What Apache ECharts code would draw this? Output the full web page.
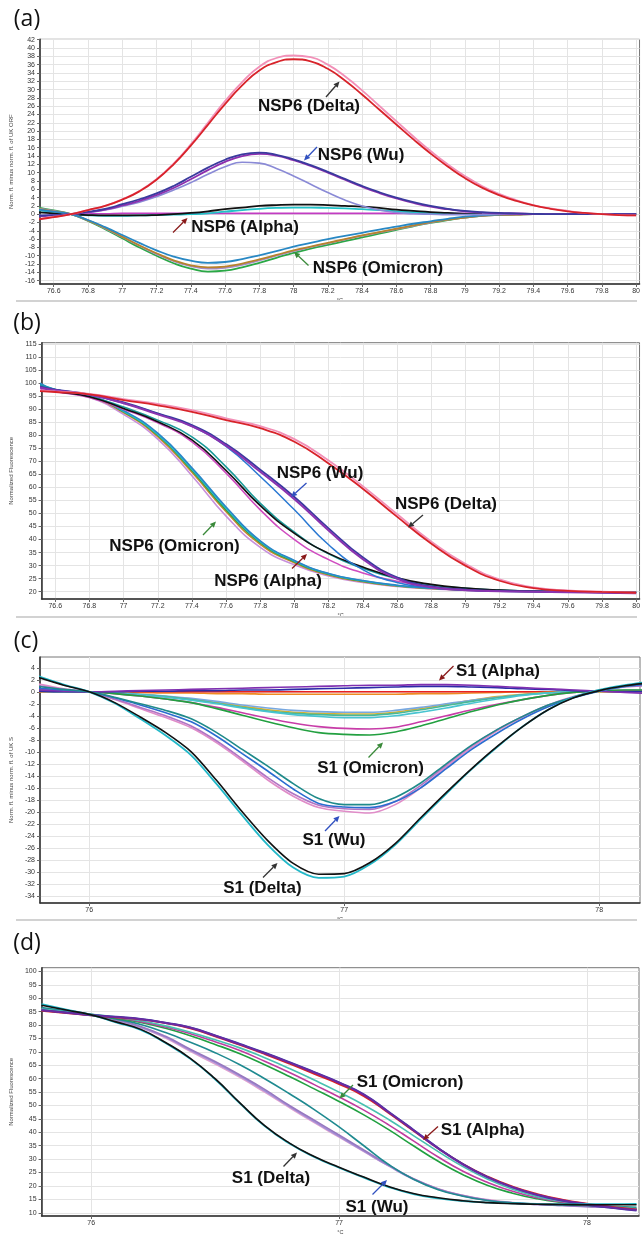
<!DOCTYPE html>
<html><head><meta charset="utf-8">
<script src="https://cdn.jsdelivr.net/npm/echarts@6/dist/echarts.min.js"></script>
<style>html,body{margin:0;padding:0;background:#fff}#c{width:643px;height:1236px}</style>
</head><body><div id="c"></div>
<script>
// ================= DATA =================
// ---- panel (a): difference melt curves, NSP6 ----
const A_X = [76.5,76.6,76.7,76.8,76.9,77.0,77.1,77.2,77.3,77.4,77.5,77.6,77.7,77.8,77.9,78.0,78.1,78.2,78.3,78.4,78.5,78.6,78.7,78.8,78.9,79.0,79.1,79.2,79.3,79.4,79.5,79.6,79.7,79.8,79.9,80.0];
const A_XTICKS = [76.6,76.8,77,77.2,77.4,77.6,77.8,78,78.2,78.4,78.6,78.8,79,79.2,79.4,79.6,79.8,80];
const A_YTICKS = [-16,-14,-12,-10,-8,-6,-4,-2,0,2,4,6,8,10,12,14,16,18,20,22,24,26,28,30,32,34,36,38,40,42];
const A_DELTA_RED  = [-1.3,-0.7,0,1.0,2.0,3.5,5.5,8.3,12.0,16.5,21.5,26.5,31.0,34.6,36.6,37.3,36.8,35.0,32.2,28.8,25.2,21.6,18.0,14.6,11.5,8.7,6.4,4.6,3.2,2.1,1.3,0.7,0.3,0,-0.2,-0.3];
const A_DELTA_PINK = [-1.2,-0.6,0,1.0,2.0,3.6,5.6,8.4,12.2,16.8,22.0,27.2,31.8,35.5,37.6,38.2,37.8,36.0,33.2,29.8,26.1,22.4,18.7,15.2,12.0,9.2,6.8,4.9,3.4,2.2,1.4,0.8,0.3,0,-0.2,-0.3];
const A_WU_DBLUE  = [-0.4,-0.2,0,0.6,1.3,2.4,3.6,5.0,6.8,9.0,11.2,13.1,14.4,14.8,14.3,13.2,11.8,10.2,8.5,6.8,5.3,4.0,2.9,2.0,1.3,0.8,0.5,0.3,0.2,0.1,0,0,0,0,0,0];
const A_WU_PURPLE = [-0.5,-0.3,0,0.5,1.1,2.1,3.2,4.6,6.3,8.4,10.6,12.6,14.0,14.5,14.1,13.0,11.6,10.0,8.3,6.6,5.1,3.8,2.7,1.8,1.2,0.7,0.4,0.2,0.1,0,0,0,0,0,0,0];
const A_WU_LILAC  = [-0.3,-0.2,0,0.4,1.0,1.9,2.9,4.2,5.8,7.6,9.6,11.4,12.5,12.3,11.0,9.2,7.2,5.2,3.4,2.0,1.0,0.4,0.1,0,-0.1,-0.1,-0.1,0,0,0,0,0,0,0,0,0];
const A_AL_BLACK  = [0.5,0.2,0,-0.2,-0.3,-0.3,-0.3,-0.2,0,0.3,0.7,1.2,1.6,2.0,2.2,2.3,2.3,2.2,2.0,1.8,1.5,1.1,0.8,0.5,0.3,0.1,0,null,null,null,null,null,null,null,null,null];
const A_AL_CYAN   = [1.0,0.5,0,-0.3,-0.4,-0.4,-0.3,-0.2,-0.1,0,0.2,0.6,1.0,1.3,1.5,1.6,1.6,1.5,1.4,1.2,1.0,0.7,0.5,0.3,0.2,0.1,0,0,0,0,0,0,0,0,0,0];
const A_AL_MAGENTA= [-0.5,-0.2,0,0.1,0.1,0.2,0.2,0.2,0.2,0.2,0.2,0.2,0.2,0.2,0.2,0.2,0.2,0.2,0.2,0.2,0.2,0.2,0.2,0.2,0.2,0.2,0.2,0.2,0.2,0.1,0.1,0.1,0.1,0.1,0.1,0.1];
const A_OM_BLUE   = [1.2,0.6,0,-1.4,-3.1,-5.0,-6.9,-8.7,-10.2,-11.2,-11.7,-11.5,-10.8,-9.9,-8.9,-7.8,-6.9,-6.0,-5.2,-4.5,-3.7,-3.0,-2.3,-1.7,-1.1,-0.6,-0.3,-0.1,0,0,0,0,0,0,0,0];
const A_OM_BROWN  = [1.3,0.7,0,-1.5,-3.3,-5.4,-7.5,-9.4,-11.1,-12.3,-12.8,-12.6,-11.9,-10.9,-9.8,-8.7,-7.8,-6.9,-6.0,-5.1,-4.3,-3.5,-2.7,-1.9,-1.3,-0.8,-0.4,-0.2,-0.1,0,0,0,0,0,0,0];
const A_OM_MAUVE  = [1.4,0.8,0,-1.5,-3.4,-5.5,-7.6,-9.6,-11.3,-12.5,-13.1,-12.9,-12.2,-11.1,-10.0,-8.9,-7.9,-7.0,-6.1,-5.2,-4.4,-3.6,-2.8,-2.0,-1.3,-0.8,-0.4,-0.2,-0.1,0,0,0,0,0,0,0];
const A_OM_GREEN  = [1.7,0.9,0,-1.6,-3.6,-5.8,-8.0,-10.0,-11.8,-13.1,-13.8,-13.6,-12.8,-11.7,-10.5,-9.3,-8.3,-7.4,-6.5,-5.6,-4.7,-3.8,-2.9,-2.1,-1.4,-0.8,-0.4,-0.2,-0.1,0,0,0,0,0,0,0];

// ---- panel (b): normalized melt curves, NSP6 ----
const B_X = [76.5,76.6,76.8,77.0,77.2,77.4,77.6,77.8,78.0,78.2,78.4,78.6,78.8,79.0,79.2,79.4,79.6,79.8,80.0];
const B_XTICKS = A_XTICKS;
const B_YTICKS = [20,25,30,35,40,45,50,55,60,65,70,75,80,85,90,95,100,105,110,115];
const B_DELTA_RED  = [97.0,96.6,95.7,93.5,91.5,89.0,85.8,82.7,77.5,69.2,59.5,48.8,38.5,30.0,24.2,21.4,20.3,19.9,19.6];
const B_DELTA_PINK = [97.3,96.8,95.9,93.9,92.0,89.6,86.5,83.5,78.5,70.3,60.5,49.8,39.3,30.7,24.7,21.7,20.5,20.0,19.7];
const B_WU_PURPLE  = [98.5,97.3,95.5,92.3,88.0,83.4,76.0,66.0,55.5,43.5,32.5,25.0,21.7,20.6,20.2,20.0,19.8,19.6,19.4];
const B_WU_DBLUE   = [98.8,97.5,95.7,92.6,88.4,83.9,76.6,66.8,56.3,44.3,33.2,25.5,22.0,20.8,20.3,20.1,19.9,19.7,19.5];
const B_WU_BLUE    = [99.0,97.5,95.5,92.3,88.3,83.4,75.7,64.2,51.4,38.0,28.5,23.5,21.5,20.6,20.2,20.0,19.9,19.8,19.7];
const B_AL_BLACK   = [98.8,97.0,94.8,90.3,85.2,78.2,66.5,53.0,42.4,34.7,29.5,25.3,22.8,21.4,20.6,20.2,20.0,19.9,19.8];
const B_AL_MAGENTA = [98.0,96.8,94.5,90.0,84.8,77.5,65.5,51.4,40.0,32.3,27.2,24.0,22.0,21.0,20.4,20.1,20.0,19.9,19.8];
const B_AL_TEAL    = [99.5,97.5,95.0,90.8,85.8,79.4,67.9,53.9,42.8,34.5,29.0,25.0,22.6,21.3,20.6,20.2,20.0,19.9,19.8];
const B_OM_BLUE    = [100.3,97.5,95.2,89.5,80.8,67.5,52.5,39.5,32.0,27.0,24.3,22.5,21.4,20.8,20.4,20.2,20.0,19.9,19.8];
const B_OM_CYAN    = [100.2,97.4,95.1,89.2,80.3,67.0,52.0,39.2,31.8,26.9,24.2,22.4,21.4,20.8,20.4,20.2,20.0,19.9,19.8];
const B_OM_GREEN   = [100.0,97.3,95.0,89.0,80.0,66.5,51.4,38.8,31.5,26.7,24.0,22.3,21.3,20.7,20.3,20.1,20.0,19.9,19.8];
const B_OM_ORANGE  = [99.8,97.2,94.8,88.7,79.5,65.8,50.7,38.2,31.1,26.4,23.8,22.2,21.2,20.6,20.3,20.1,20.0,19.9,19.8];
const B_OM_MAUVE   = [99.5,97.0,94.5,88.0,78.5,64.5,49.0,37.0,30.3,26.0,23.5,22.0,21.1,20.6,20.3,20.1,20.0,19.9,19.8];

// ---- panel (c): difference melt curves, S1 ----
const C_X = [75.8,75.9,76.0,76.1,76.2,76.3,76.4,76.5,76.6,76.7,76.8,76.9,77.0,77.1,77.2,77.3,77.4,77.5,77.6,77.7,77.8,77.9,78.0,78.1,78.2];
const C_XTICKS = [76,77,78];
const C_YTICKS = [-34,-32,-30,-28,-26,-24,-22,-20,-18,-16,-14,-12,-10,-8,-6,-4,-2,0,2,4];
const C_DE_BLACK = [2.4,1.1,0,-1.8,-4.2,-6.8,-10.0,-14.8,-20.0,-24.8,-28.6,-30.4,-30.3,-28.5,-25.3,-21.0,-16.8,-12.8,-9.1,-5.8,-3.0,-1.0,0.2,1.0,1.5];
const C_DE_CYAN  = [2.6,1.2,0,-1.9,-4.5,-7.3,-10.6,-15.4,-20.6,-25.5,-29.3,-31.0,-30.8,-28.8,-25.5,-21.2,-17.0,-12.9,-9.2,-5.8,-3.0,-0.9,0.3,1.1,1.7];
const C_WU_TEAL  = [0.9,0.4,0,-0.9,-2.0,-3.1,-4.5,-6.8,-9.6,-12.4,-15.3,-17.8,-18.8,-18.8,-17.6,-15.2,-12.0,-8.9,-6.3,-4.1,-2.2,-0.9,0.2,1.0,1.5];
const C_WU_BLUE  = [0.6,0.3,0,-1.0,-2.2,-3.5,-5.0,-7.4,-10.3,-13.2,-16.2,-18.6,-19.2,-19.3,-18.3,-16.0,-12.8,-9.6,-6.9,-4.5,-2.5,-1.0,0.1,0.9,1.3];
const C_WU_PINK  = [1.3,0.5,0,-1.3,-2.8,-4.3,-6.0,-8.5,-11.5,-14.7,-17.4,-19.3,-19.9,-20.2,-18.8,-16.0,-12.5,-9.3,-6.5,-4.2,-2.3,-0.9,0.2,0.9,1.2];
const C_WU_MAUVE = [1.0,0.4,0,-1.2,-2.6,-4.0,-5.7,-8.2,-11.2,-14.3,-17.0,-18.9,-19.5,-19.6,-18.3,-15.6,-12.2,-9.0,-6.3,-4.1,-2.2,-0.8,0.2,0.8,1.0];
const C_OM_GREEN = [0.2,0.1,0,-0.3,-0.7,-1.2,-1.8,-2.8,-3.9,-5.0,-6.0,-6.8,-7.1,-7.2,-6.7,-5.7,-4.5,-3.3,-2.2,-1.3,-0.6,-0.1,0.2,0.3,0.3];
const C_OM_MAG   = [0.5,0.2,0,-0.3,-0.7,-1.2,-1.8,-2.6,-3.5,-4.4,-5.2,-5.8,-6.1,-6.2,-5.9,-5.0,-4.0,-3.0,-2.1,-1.3,-0.6,-0.1,0.2,0.2,0.2];
const C_OM_LCYAN = [0.2,0.1,0,-0.2,-0.5,-0.9,-1.4,-2.0,-2.7,-3.3,-3.8,-4.1,-4.3,-4.3,-4.0,-3.4,-2.7,-1.9,-1.2,-0.6,-0.2,0,0.1,0.2,0.2];
const C_OM_AQUA  = [0.1,0,0,-0.2,-0.5,-0.8,-1.3,-1.9,-2.6,-3.2,-3.6,-3.8,-3.9,-3.9,-3.6,-3.0,-2.3,-1.6,-1.0,-0.5,-0.2,0,0.1,0.1,0.1];
const C_OM_YEL   = [0,0,0,-0.2,-0.4,-0.8,-1.2,-1.8,-2.4,-3.0,-3.4,-3.6,-3.7,-3.7,-3.4,-2.8,-2.1,-1.4,-0.8,-0.4,-0.1,0,0,0,0];
const C_OM_LBLUE = [0.1,0,0,-0.2,-0.4,-0.7,-1.1,-1.6,-2.2,-2.7,-3.1,-3.3,-3.4,-3.4,-3.1,-2.6,-2.0,-1.4,-0.9,-0.5,-0.2,0,0.1,0.1,0.1];
const C_AL_PURPLE= [0.3,0.1,0,0.1,0.2,0.3,0.4,0.5,0.6,0.7,0.8,0.9,1.0,1.1,1.1,1.2,1.2,1.1,0.9,0.7,0.5,0.3,0.1,-0.1,-0.3];
const C_AL_DBLUE = [0.1,0,0,0,0.1,0.1,0.2,0.2,0.3,0.3,0.4,0.5,0.6,0.7,0.8,0.9,0.9,0.8,0.7,0.5,0.4,0.2,0.1,0,0];
const C_AL_RED   = [0,0,0,0,0,0,0,0,0,0,0,0,0,0,0,0,0,0,0,0,0,0,null,null,null];
const C_AL_ORANGE= [0,0,0,-0.1,-0.1,-0.2,-0.2,-0.3,-0.3,-0.4,-0.4,-0.4,-0.4,-0.4,-0.4,-0.3,-0.3,-0.2,-0.1,0,0,0,0,0,0];

// ---- panel (d): normalized melt curves, S1 ----
const D_X = C_X;
const D_XTICKS = [76,77,78];
const D_YTICKS = [10,15,20,25,30,35,40,45,50,55,60,65,70,75,80,85,90,95,100];
const D_DE_BLACK = [87.4,85.6,83.8,81.2,78.4,73.5,67.6,60.0,51.0,42.5,36.0,31.0,27.0,23.3,19.8,17.2,15.6,14.5,13.8,13.4,13.2,13.1,13.0,13.0,13.0];
const D_DE_CYAN  = [87.8,85.8,83.8,81.0,78.2,73.3,67.4,59.8,50.8,42.3,35.8,30.8,26.8,23.1,19.6,17.0,15.4,14.4,13.8,13.5,13.3,13.2,13.2,13.2,13.3];
const D_WU_TEAL  = [86.5,85.3,84.0,82.3,80.2,77.2,73.6,69.7,65.2,60.0,54.4,48.5,42.0,35.0,28.0,22.5,18.6,16.2,14.6,13.7,13.2,12.9,12.7,12.4,12.0];
const D_WU_LAV   = [86.0,85.0,83.8,81.8,79.2,75.5,70.6,66.0,61.0,55.5,49.6,44.0,38.5,33.0,27.5,22.5,18.8,16.3,14.7,13.7,13.1,12.7,12.4,12.0,11.5];
const D_WU_PINK  = [85.7,84.8,83.7,81.6,79.0,75.2,70.2,65.5,60.5,55.0,49.2,43.6,38.2,32.8,27.5,22.7,19.0,16.5,14.9,13.8,13.2,12.8,12.5,12.1,11.7];
const D_WU_PURP  = [86.2,85.1,83.9,82.0,79.5,75.8,71.0,66.4,61.4,56.0,50.0,44.5,39.0,33.4,27.8,22.7,18.9,16.4,14.7,13.7,13.1,12.7,12.3,11.9,11.3];
const D_OM_GREEN = [85.5,84.7,83.8,82.6,81.0,78.8,76.0,72.8,69.3,65.2,60.8,56.2,51.5,46.5,41.0,35.0,29.2,24.2,20.2,17.3,15.2,13.8,12.8,12.0,11.3];
const D_OM_MAG   = [85.8,84.8,83.9,82.8,81.3,79.3,76.8,73.8,70.5,66.5,62.3,57.8,53.2,48.3,42.8,36.8,30.8,25.5,21.3,18.0,15.6,14.0,12.9,12.0,11.2];
const D_OM_CYAN  = [86.0,85.0,84.0,83.0,81.6,79.7,77.3,74.5,71.5,67.8,63.8,59.5,55.0,50.2,44.8,38.8,32.8,27.2,22.5,18.8,16.0,14.3,13.1,12.3,11.6];
const D_AL_RED   = [85.3,84.5,83.6,82.9,82.1,80.7,78.8,75.8,72.6,69.2,65.6,61.8,58.0,53.5,47.2,40.6,34.0,28.2,23.5,19.8,17.0,14.9,13.4,12.2,11.3];
const D_AL_PURPLE= [85.5,84.6,83.7,83.0,82.2,80.8,79.0,76.0,72.8,69.5,66.0,62.3,58.5,54.0,47.5,40.8,34.0,28.0,23.2,19.5,16.7,14.7,13.2,12.0,11.0];
const D_AL_DBLUE = [85.6,84.7,83.8,83.1,82.3,80.9,79.1,76.2,73.0,69.7,66.2,62.5,58.7,54.2,47.7,41.0,34.2,28.2,23.3,19.5,16.6,14.5,13.0,11.8,10.8];

// ================= CHART =================
const FONT = '"Liberation Sans", Arial, sans-serif';
const chart = echarts.init(document.getElementById('c'));
function fmt(v){ return String(Math.round(v*10)/10); }

function xAxis(gi, min, max, ticks){
  return {type:'value', gridIndex:gi, min:min, max:max,
    axisLine:{show:true, onZero:false, lineStyle:{color:'#333', width:1.5}},
    axisTick:{show:true, length:3, customValues:ticks, lineStyle:{color:'#666'}},
    axisLabel:{customValues:ticks, formatter:fmt, fontSize:7, color:'#333', margin:4, fontFamily:FONT},
    splitLine:{show:true, lineStyle:{color:'#e4e4e4', width:1}},
    name:'°C', nameLocation:'middle', nameGap:13, nameTextStyle:{fontSize:5.5, color:'#444', fontFamily:FONT}};
}
function yAxis(gi, min, max, ticks, name, gap){
  return {type:'value', gridIndex:gi, min:min, max:max,
    axisLine:{show:true, onZero:false, lineStyle:{color:'#333', width:1.5}},
    axisTick:{show:true, length:3, customValues:ticks, lineStyle:{color:'#666'}},
    axisLabel:{customValues:ticks, formatter:fmt, fontSize:7, color:'#333', margin:5, fontFamily:FONT},
    splitLine:{show:true, lineStyle:{color:'#e4e4e4', width:1}},
    name:name, nameLocation:'middle', nameGap:gap, nameTextStyle:{fontSize:6, color:'#444', fontFamily:FONT}};
}
function line(gi, xs, ys, color, w, smooth){
  const d = [];
  for (let i = 0; i < xs.length; i++) if (ys[i] != null) d.push([xs[i], ys[i]]);
  return {type:'line', xAxisIndex:gi, yAxisIndex:gi, data:d, symbol:'none', showSymbol:false,
    smooth:smooth, lineStyle:{color:color, width:w}, itemStyle:{color:color}, silent:true, animation:false, clip:true};
}

const series = [
  // (a)
  line(0, A_X, A_AL_MAGENTA, '#c23cc2', 1.6, true),
  line(0, A_X, A_AL_CYAN, '#22c2c8', 1.8, true),
  line(0, A_X, A_AL_BLACK, '#111111', 1.8, true),
  line(0, A_X, A_OM_GREEN, '#2aa846', 1.8, true),
  line(0, A_X, A_OM_MAUVE, '#a58cc8', 1.8, true),
  line(0, A_X, A_OM_BROWN, '#b8822c', 1.8, true),
  line(0, A_X, A_OM_BLUE, '#2888c4', 1.8, true),
  line(0, A_X, A_WU_LILAC, '#8a8ad6', 1.6, true),
  line(0, A_X, A_WU_PURPLE, '#8e2eae', 1.8, true),
  line(0, A_X, A_WU_DBLUE, '#3a3a9e', 1.8, true),
  line(0, A_X, A_DELTA_PINK, '#f290b8', 1.8, true),
  line(0, A_X, A_DELTA_RED, '#d8232a', 1.8, true),
  // (b)
  line(1, B_X, B_OM_MAUVE, '#c890dc', 1.6, true),
  line(1, B_X, B_OM_ORANGE, '#c8862c', 1.6, true),
  line(1, B_X, B_OM_GREEN, '#2ca048', 1.6, true),
  line(1, B_X, B_OM_CYAN, '#2cc0c8', 1.6, true),
  line(1, B_X, B_OM_BLUE, '#2a86c8', 1.6, true),
  line(1, B_X, B_AL_MAGENTA, '#d04cc0', 1.6, true),
  line(1, B_X, B_AL_TEAL, '#1a9a9a', 1.6, true),
  line(1, B_X, B_AL_BLACK, '#111111', 1.6, true),
  line(1, B_X, B_WU_BLUE, '#2a78d2', 1.5, true),
  line(1, B_X, B_WU_DBLUE, '#3a3aa0', 1.8, true),
  line(1, B_X, B_WU_PURPLE, '#8a34b0', 2.0, true),
  line(1, B_X, B_DELTA_PINK, '#f290b8', 1.8, true),
  line(1, B_X, B_DELTA_RED, '#d8232a', 1.8, true),
  // (c)
  line(2, C_X, C_AL_ORANGE, '#f08a20', 1.6, 0.3),
  line(2, C_X, C_AL_RED, '#e82020', 1.6, 0.3),
  line(2, C_X, C_OM_YEL, '#d8b030', 1.6, 0.3),
  line(2, C_X, C_OM_LBLUE, '#78a8e0', 1.6, 0.3),
  line(2, C_X, C_OM_AQUA, '#48b898', 1.6, 0.3),
  line(2, C_X, C_OM_LCYAN, '#48c4d0', 1.6, 0.3),
  line(2, C_X, C_OM_MAG, '#c83ca8', 1.6, 0.3),
  line(2, C_X, C_OM_GREEN, '#22a040', 1.6, 0.3),
  line(2, C_X, C_AL_DBLUE, '#2c2ca8', 1.6, 0.3),
  line(2, C_X, C_AL_PURPLE, '#8030b0', 1.6, 0.3),
  line(2, C_X, C_WU_PINK, '#e08cc8', 1.6, 0.3),
  line(2, C_X, C_WU_MAUVE, '#b074c4', 1.6, 0.3),
  line(2, C_X, C_WU_BLUE, '#2a6cd0', 1.6, 0.3),
  line(2, C_X, C_WU_TEAL, '#1f8a8a', 1.6, 0.3),
  line(2, C_X, C_DE_CYAN, '#22b8c8', 1.8, 0.3),
  line(2, C_X, C_DE_BLACK, '#111111', 1.6, 0.3),
  // (d)
  line(3, D_X, D_WU_PINK, '#e0a0d0', 1.6, true),
  line(3, D_X, D_WU_LAV, '#a090d8', 1.6, true),
  line(3, D_X, D_WU_PURP, '#9878c0', 1.6, true),
  line(3, D_X, D_WU_TEAL, '#1f8a90', 1.6, true),
  line(3, D_X, D_OM_GREEN, '#20a040', 1.6, true),
  line(3, D_X, D_OM_MAG, '#c03ca0', 1.6, true),
  line(3, D_X, D_OM_CYAN, '#48c0b0', 1.6, true),
  line(3, D_X, D_AL_RED, '#e02020', 1.8, true),
  line(3, D_X, D_AL_DBLUE, '#3838a8', 1.8, true),
  line(3, D_X, D_AL_PURPLE, '#6a2aa0', 2.0, true),
  line(3, D_X, D_DE_CYAN, '#20b8c8', 1.8, true),
  line(3, D_X, D_DE_BLACK, '#111111', 1.6, true)
];

// ---- annotations (pixel layout) ----
const G = [];
function txt(x, y, s, size, weight, family){
  G.push({type:'text', x:x, y:y, z:100, style:{text:s, fill:'#111', fontSize:size, fontWeight:weight, fontFamily:family, align:'center', verticalAlign:'middle'}});
}
function arrow(x1, y1, x2, y2, color){
  const a = Math.atan2(y2-y1, x2-x1), L = 6, W = 2.8;
  const bx = x2 - L*Math.cos(a), by = y2 - L*Math.sin(a);
  G.push({type:'line', z:100, shape:{x1:x1, y1:y1, x2:bx, y2:by}, style:{stroke:color, lineWidth:1.3}});
  G.push({type:'polygon', z:100, shape:{points:[[x2,y2],[bx+W*Math.sin(a), by-W*Math.cos(a)],[bx-W*Math.sin(a), by+W*Math.cos(a)]]}, style:{fill:color}});
}
const LBL = '"Liberation Sans", Arial, sans-serif';
const PAN = '"Open Sans", "Noto Sans", sans-serif';
txt(27, 19, '(a)', 23, 'normal', PAN);
txt(27, 323, '(b)', 23, 'normal', PAN);
txt(26, 641, '(c)', 23, 'normal', PAN);
txt(27, 943, '(d)', 23, 'normal', PAN);
// (a)
txt(309, 106, 'NSP6 (Delta)', 17, 'bold', LBL);   arrow(326, 97, 339.5, 81.5, '#333');
txt(361, 155, 'NSP6 (Wu)', 17, 'bold', LBL);      arrow(317, 147, 304, 160.5, '#3050c0');
txt(245, 227, 'NSP6 (Alpha)', 17, 'bold', LBL);   arrow(173, 232.5, 187.5, 218, '#8a1a1a');
txt(378, 268, 'NSP6 (Omicron)', 17, 'bold', LBL); arrow(308.5, 265.5, 294, 252, '#3a8a3a');
// (b)
txt(320, 473, 'NSP6 (Wu)', 17, 'bold', LBL);      arrow(306.5, 483, 291, 497, '#3050c0');
txt(446, 504, 'NSP6 (Delta)', 17, 'bold', LBL);   arrow(423, 515, 408, 527.5, '#333');
txt(174.5, 546, 'NSP6 (Omicron)', 17, 'bold', LBL); arrow(203, 535, 216, 521.5, '#3a8a3a');
txt(268, 581, 'NSP6 (Alpha)', 17, 'bold', LBL);   arrow(292, 568.5, 307, 554, '#8a1a1a');
// (c)
txt(498, 671.5, 'S1 (Alpha)', 17, 'bold', LBL);   arrow(453.5, 666, 439, 680.5, '#8a1a1a');
txt(370.6, 768, 'S1 (Omicron)', 17, 'bold', LBL); arrow(368.5, 757.5, 383, 742.5, '#3a8a3a');
txt(334, 840.5, 'S1 (Wu)', 17, 'bold', LBL);      arrow(325, 831, 339.5, 816, '#3050c0');
txt(262.4, 888, 'S1 (Delta)', 17, 'bold', LBL);   arrow(263, 877.5, 277.5, 863, '#333');
// (d)
txt(410, 1082.5, 'S1 (Omicron)', 17, 'bold', LBL); arrow(353, 1085, 339.5, 1098.5, '#3a8a3a');
txt(482.7, 1130, 'S1 (Alpha)', 17, 'bold', LBL);  arrow(438, 1126.5, 423, 1140, '#8a1a1a');
txt(271, 1178, 'S1 (Delta)', 17, 'bold', LBL);    arrow(283.5, 1166.5, 297, 1152.5, '#333');
txt(377, 1207.5, 'S1 (Wu)', 17, 'bold', LBL);     arrow(372.5, 1194.5, 387, 1180, '#3050c0');
// separators between software panels
[301, 617, 920].forEach(function(y){
  G.push({type:'line', z:1, shape:{x1:16, y1:y, x2:637, y2:y}, style:{stroke:'#d2d2d2', lineWidth:2}});
});

chart.setOption({
  animation:false,
  backgroundColor:'#ffffff',
  grid:[
    {left:38, top:39.3, width:602, height:244.7, show:true, borderColor:'#777', borderWidth:1},
    {left:38, top:342.7, width:602, height:256.3, show:true, borderColor:'#777', borderWidth:1},
    {left:36.5, top:657, width:603.5, height:246, show:true, borderColor:'#777', borderWidth:1},
    {left:33, top:967.7, width:606, height:257.3, show:true, borderColor:'#777', borderWidth:1}
  ],
  xAxis:[
    xAxis(0, 76.52, 80.02, A_XTICKS),
    xAxis(1, 76.52, 80.02, B_XTICKS),
    xAxis(2, 75.807, 78.16, C_XTICKS),
    xAxis(3, 75.80, 78.21, D_XTICKS)
  ],
  yAxis:[
    yAxis(0, -16.8, 42.1, A_YTICKS, 'Norm. fl. minus norm. fl. of UK ORF', 17),
    yAxis(1, 17.2, 115.5, B_YTICKS, 'Normalized Fluorescence', 21),
    yAxis(2, -35.2, 5.8, C_YTICKS, 'Norm. fl. minus norm. fl. of UK S', 20),
    yAxis(3, 8.8, 101.4, D_YTICKS, 'Normalized Fluorescence', 17)
  ],
  series:series,
  graphic:{elements:G}
});
</script>
</body></html>
